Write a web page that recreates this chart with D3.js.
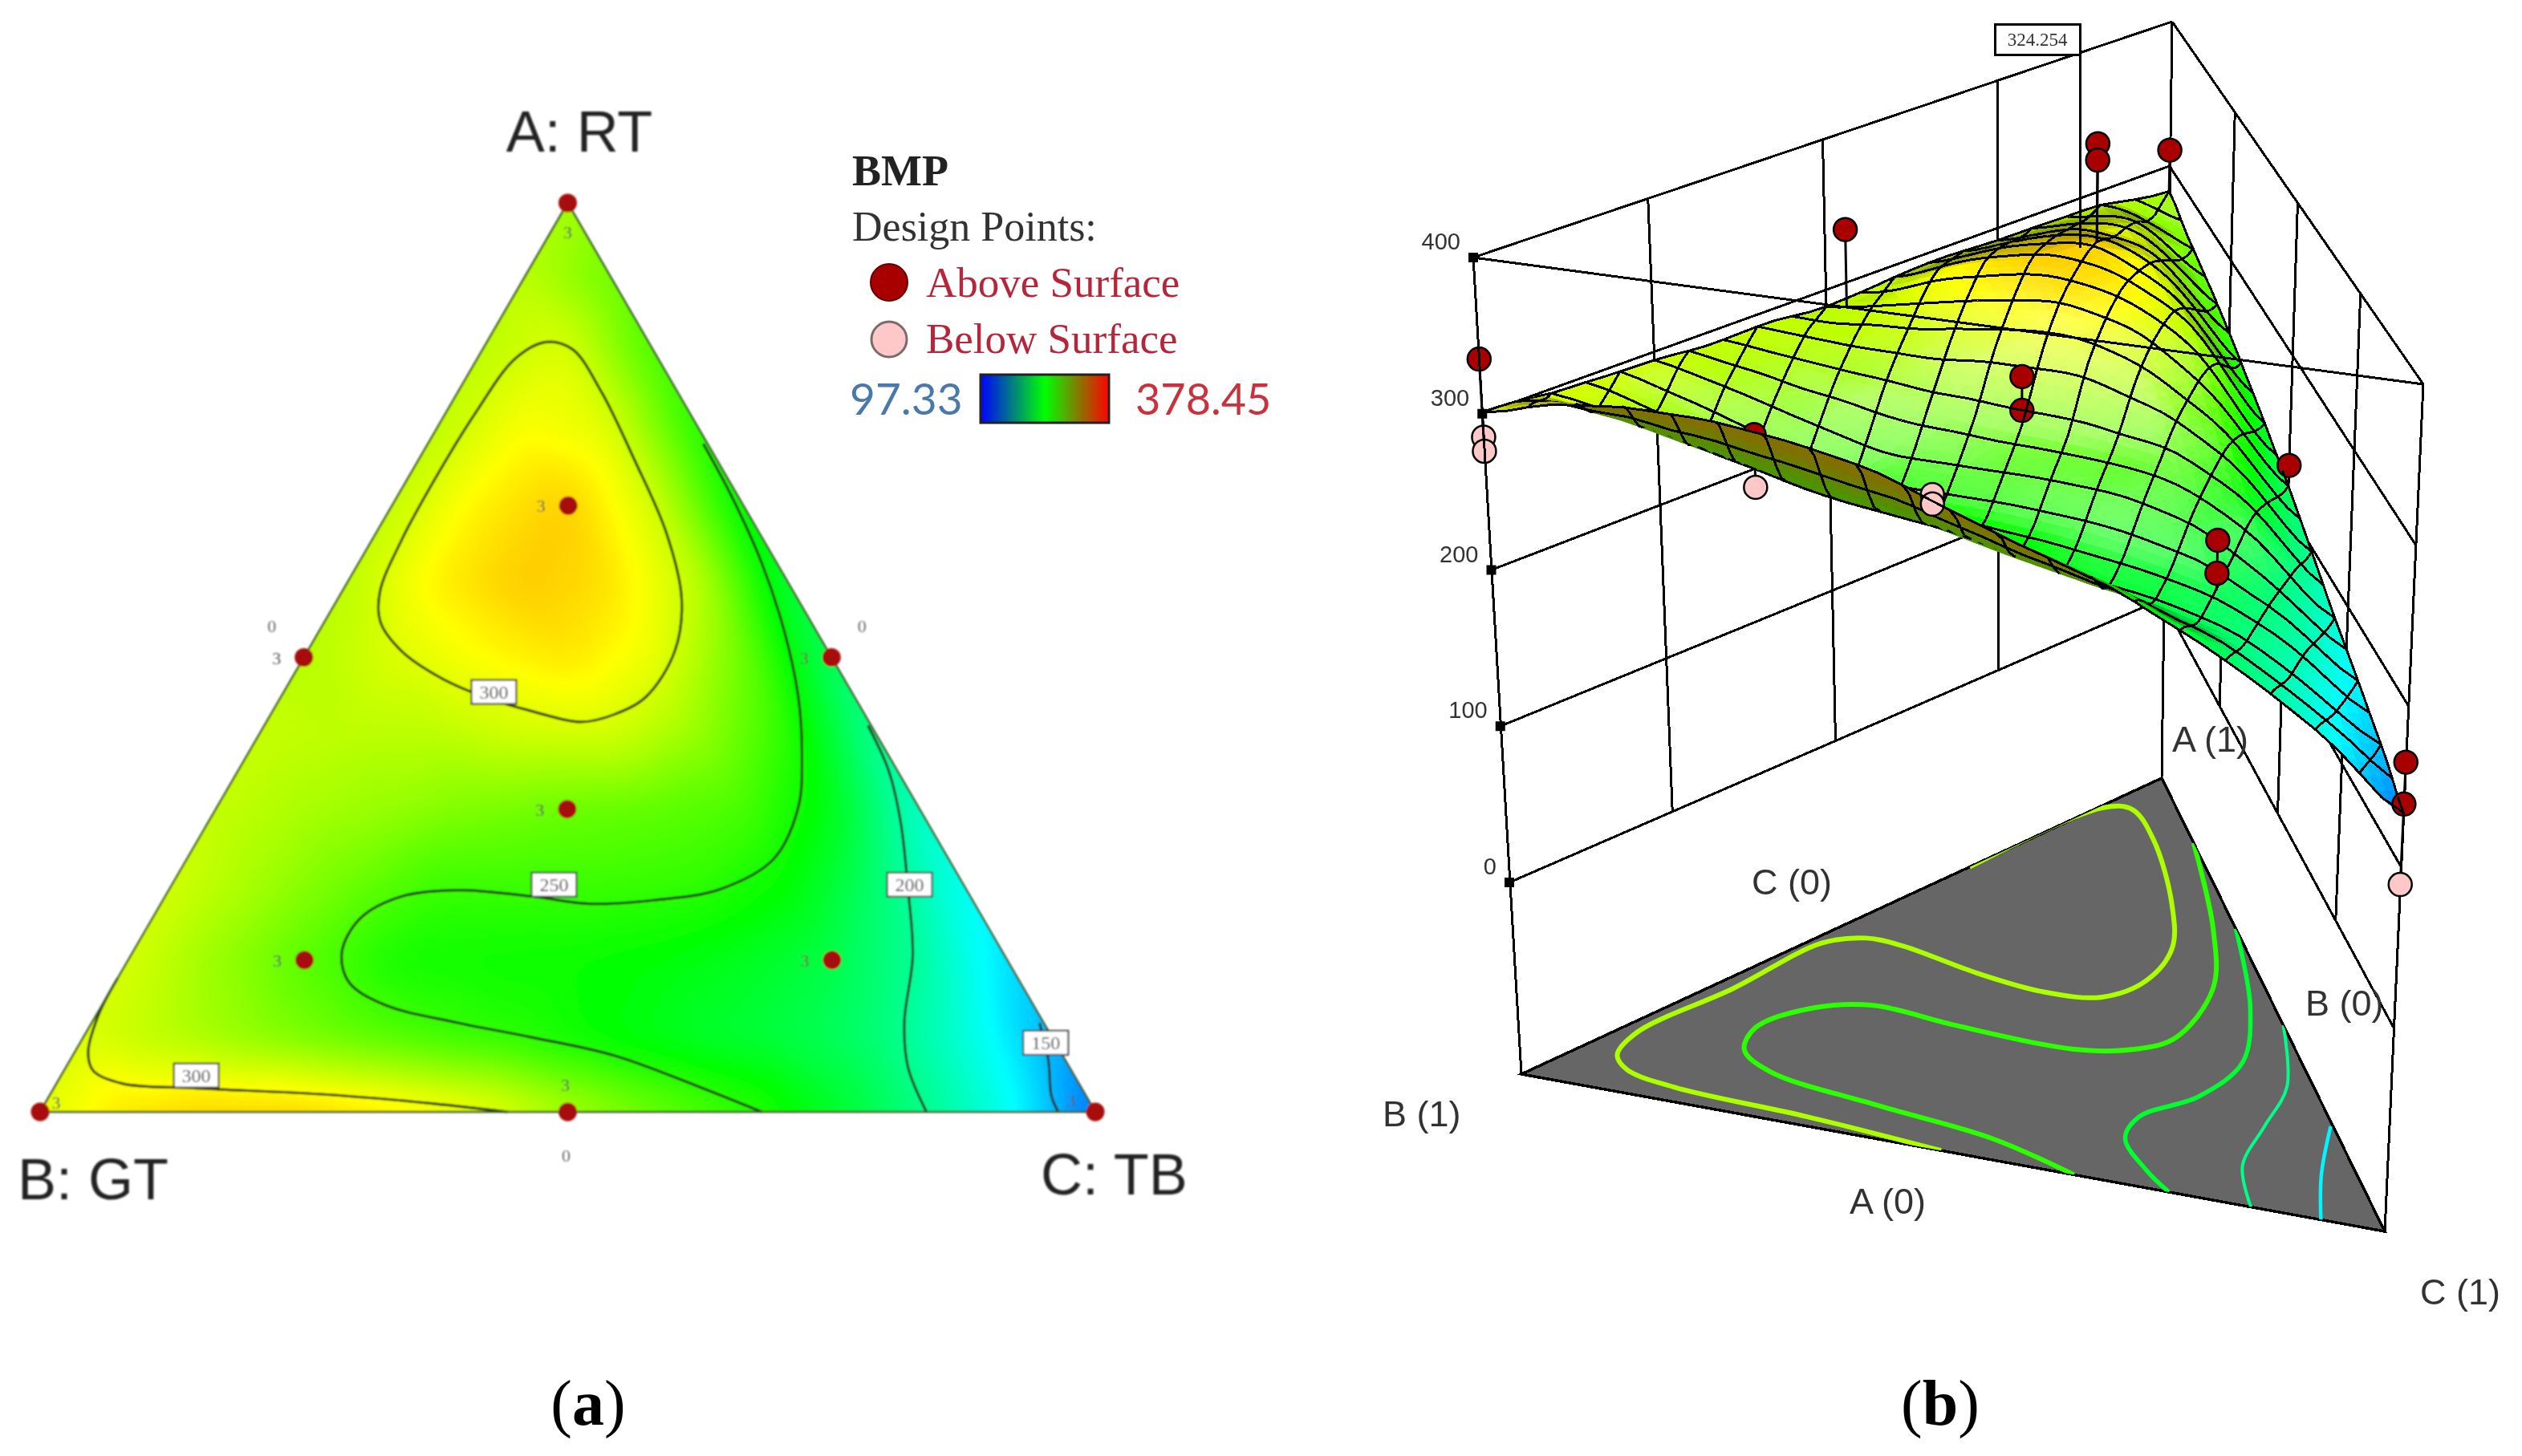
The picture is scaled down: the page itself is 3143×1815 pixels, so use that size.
<!DOCTYPE html>
<html>
<head>
<meta charset="utf-8">
<script src="https://cdn.jsdelivr.net/npm/d3@7.9.0/dist/d3.min.js"></script>
<style>
  body { margin: 0; background: #fff; }
  svg { display: block; }
</style>
</head>
<body>
<svg id="chart" width="3143" height="1815"></svg>
<script>
// BMP: row = A in twelfths, column = C in twelfths
const bmpGrid = [
  [300, 316, 322, 322, 316, 306, 286, 268, 252, 228, 202, 172, 128],
  [298, 288, 276, 265, 255, 248, 236, 226, 219, 206, 178, 146],
  [297, 280, 262, 244, 241, 240, 236, 229, 218, 195, 158],
  [296, 283, 268, 254, 254, 254, 251, 238, 208, 170],
  [292, 285, 279, 272, 267, 264, 258, 232, 182],
  [293, 290, 290, 296, 297, 280, 250, 196],
  [288, 298, 308, 315, 303, 268, 210],
  [290, 312, 323, 316, 290, 222],
  [292, 312, 322, 296, 234],
  [290, 308, 300, 247],
  [290, 300, 258],
  [290, 268],
  [283]
];
const valueMin = 97.33;
const valueMax = 378.45;
const colorStops = ['#0000ff', '#00ffff', '#00ff00', '#ffff00', '#ff0000'];
const legendStops = ['#0000ff', '#00ff00', '#ff0000'];

// contour lines of panel a, as [A, C] mixture fractions
const contour300Loop = [[.847,.056],[.839,.085],[.792,.136],[.718,.204],[.637,.275],[.564,.326],[.507,.348],[.457,.346],[.437,.325],[.429,.298],[.441,.245],[.454,.200],[.477,.142],[.507,.089],[.539,.053],[.572,.036],[.629,.028],[.694,.026],[.768,.028],[.829,.036]];
const contour300Foot = [[.147,0],[.107,.002],[.065,.013],[.045,.028],[.031,.063],[.026,.135],[.019,.263],[.009,.369],[0,.443]];
const contour250 = [[.735,.261],[.678,.316],[.605,.381],[.530,.440],[.457,.490],[.392,.526],[.335,.551],[.278,.556],[.245,.522],[.233,.466],[.229,.406],[.237,.348],[.244,.274],[.237,.224],[.213,.197],[.176,.198],[.143,.221],[.118,.267],[.098,.347],[.082,.425],[.062,.513],[.029,.607],[0,.684]];
const contour200 = [[.425,.572],[.376,.616],[.319,.656],[.245,.700],[.172,.741],[.098,.770],[.049,.798],[0,.840]];
const contour150 = [[.098,.898],[.057,.927],[.017,.950],[0,.965]];
const contourLabels = [['300',.462,.199],['250',.25,.362],['200',.25,.699],['150',.076,.915],['300',.04,.128]];

// contours on the floor of panel b, also [A, C]
const floorLevels = [285, 250, 225, 200, 165];
const floor285 = [[0,.486],[.023,.314],[.036,.150],[.058,.079],[.089,.045],[.152,.021],[.301,.022],[.45,.014],[.482,.042],[.479,.087],[.446,.197],[.43,.285],[.443,.344],[.503,.351],[.593,.314],[.699,.235],[.847,.104],[.911,.032],[.902,.004],[.70,0]];
const floor250 = [[.857,.143],[.657,.314],[.514,.42],[.378,.478],[.329,.463],[.304,.413],[.31,.272],[.322,.169],[.29,.124],[.216,.111],[.158,.141],[.116,.202],[.081,.356],[.052,.506],[0,.64]];
const floor225 = [[.668,.332],[.483,.486],[.347,.578],[.245,.603],[.169,.59],[.111,.617],[.043,.692],[0,.75]];
const floor200 = [[.455,.545],[.307,.659],[.202,.711],[.096,.764],[0,.845]];
const floor165 = [[.231,.766],[.11,.845],[0,.926]];

// design points of panel a: [A, C, run count]
const designMixes = [[1,0,3],[.667,.167,3],[.5,0,3],[.5,.5,3],[.333,.333,3],[.167,.167,3],[.167,.667,3],[0,0,3],[0,.5,3],[0,1,3]];
const zeroMixes = [[.5,0],[.5,.5],[0,.5]];

// design points of panel b: [A, C, BMP, side]
const runs3d = [
  [1, 0, 311, 'above'], [.667, .167, 385, 'above'], [.667, .167, 374, 'above'],
  [.5, .022, 342, 'above'], [.5, .5, 228, 'above'],
  [.333, .333, 299, 'above'], [.333, .333, 277, 'above'],
  [.167, .167, 274, 'above'], [.167, .167, 240, 'below'],
  [.167, .667, 249, 'above'], [.167, .667, 228, 'above'],
  [0, 0, 335, 'above'], [0, 0, 285, 'below'], [0, 0, 276, 'below'],
  [0, .482, 289, 'below'], [0, .482, 283, 'below'],
  [0, 1, 165, 'above'], [0, 1, 139, 'above'], [0, 1, 89, 'below']
];
const levelTicks = [0, 100, 200, 300, 400];
const flagValue = 324.254;
const flagMix = [.62, .184];

const svg = d3.select('#chart');
const defs = svg.append('defs');
defs.append('filter').attr('id', 'soft').append('feGaussianBlur').attr('stdDeviation', 1.1);
defs.append('filter').attr('id', 'softText').append('feGaussianBlur').attr('stdDeviation', 0.6);

const colorOf = d3.scaleLinear()
  .domain(colorStops.map((_, i) => valueMin + i * (valueMax - valueMin) / (colorStops.length - 1)))
  .range(colorStops)
  .clamp(true);

// 读取网格 -- piecewise linear on the triangular lattice
function latticeValue(a, s) {
  a = Math.max(0, Math.min(1, a));
  let c = Math.max(0, Math.min(1 - a, s - a / 2));
  const u = a * 12, q = c * 12;
  const i = Math.min(11, Math.floor(u));
  const j = Math.min(12 - i - 1, Math.floor(q));
  const fu = u - i, fq = q - j;
  const V = (r, k) => bmpGrid[r][Math.min(k, bmpGrid[r].length - 1)];
  if (fu + fq <= 1) return V(i, j) * (1 - fu - fq) + V(i + 1, j) * fu + V(i, j + 1) * fq;
  return V(i + 1, j + 1) * (fu + fq - 1) + V(i + 1, j) * (1 - fq) + V(i, j + 1) * (1 - fu);
}

// raster of the field over (s, a), smoothed with d3.blur2
const RW = 300, RH = 300;
const raster = new Float64Array(RW * RH);
for (let y = 0; y < RH; y++) {
  for (let x = 0; x < RW; x++) {
    raster[y * RW + x] = latticeValue((y + .5) / RH, (x + .5) / RW);
  }
}
d3.blur2({data: raster, width: RW, height: RH}, 4);

function fieldAt(a, s) {
  const fx = Math.max(0, Math.min(RW - 1.001, s * RW - .5));
  const fy = Math.max(0, Math.min(RH - 1.001, a * RH - .5));
  const x = Math.floor(fx), y = Math.floor(fy), dx = fx - x, dy = fy - y;
  const lo = raster[y * RW + x] * (1 - dx) + raster[y * RW + x + 1] * dx;
  const hi = raster[(y + 1) * RW + x] * (1 - dx) + raster[(y + 1) * RW + x + 1] * dx;
  return lo * (1 - dy) + hi * dy;
}
const mixValue = (a, c) => fieldAt(a, c + a / 2);

// ---------- panel a ----------
const xTern = d3.scaleLinear([0, 1], [50, 1365]);
const yTern = d3.scaleLinear([0, 1], [1386, 253]);
const ternX = (a, c) => xTern(c + a / 2);
const ternY = a => yTern(a);

const left = svg.append('g').attr('filter', 'url(#soft)');

const canvas = document.createElement('canvas');
canvas.width = RW; canvas.height = RH;
const ctx = canvas.getContext('2d');
const img = ctx.createImageData(RW, RH);
for (let y = 0; y < RH; y++) {
  for (let x = 0; x < RW; x++) {
    const col = d3.rgb(colorOf(raster[(RH - 1 - y) * RW + x]));
    const k = (y * RW + x) * 4;
    img.data[k] = col.r; img.data[k + 1] = col.g; img.data[k + 2] = col.b; img.data[k + 3] = 255;
  }
}
ctx.putImageData(img, 0, 0);

const ternCorners = [[1, 0], [0, 0], [0, 1]];
const ternPath = 'M' + ternCorners.map(d => ternX(d[0], d[1]) + ',' + ternY(d[0])).join('L') + 'Z';
defs.append('clipPath').attr('id', 'ternClip').append('path').attr('d', ternPath);

left.append('image')
  .attr('href', canvas.toDataURL())
  .attr('x', xTern(0)).attr('y', yTern(1))
  .attr('width', xTern(1) - xTern(0)).attr('height', yTern(0) - yTern(1))
  .attr('preserveAspectRatio', 'none')
  .attr('clip-path', 'url(#ternClip)');

const ternLine = d3.line().x(d => ternX(d[0], d[1])).y(d => ternY(d[0]));
const contourLayer = left.append('g').attr('fill', 'none').attr('stroke', '#26331c').attr('stroke-width', 3.2);
contourLayer.append('path').datum(contour300Loop).attr('d', ternLine.curve(d3.curveCatmullRomClosed));
[contour300Foot, contour250, contour200, contour150].forEach(line => {
  contourLayer.append('path').datum(line).attr('d', ternLine.curve(d3.curveCatmullRom));
});

left.append('path').attr('d', ternPath).attr('fill', 'none').attr('stroke', '#3d5a28').attr('stroke-width', 2.5);

contourLabels.forEach(d => {
  const x = ternX(d[1], d[2]), y = ternY(d[1]);
  left.append('rect').attr('x', x - 28).attr('y', y - 15).attr('width', 56).attr('height', 30)
    .attr('fill', '#fff').attr('stroke', '#333').attr('stroke-width', 2);
  left.append('text').attr('x', x).attr('y', y + 8).attr('text-anchor', 'middle')
    .attr('font-family', 'Liberation Serif').attr('font-size', 24).attr('fill', '#444').text(d[0]);
});

// offset of the run count next to each design point
const countOffset = (a, c) => {
  if (a === 1) return [0, 44];
  if (a === 0 && c === 0) return [20, -4];
  if (a === 0 && c === 1) return [-30, -6];
  if (a === 0) return [-3, -26];
  return [-34, 8];
};
designMixes.forEach(d => {
  const x = ternX(d[0], d[1]), y = ternY(d[0]), o = countOffset(d[0], d[1]);
  left.append('circle').attr('cx', x).attr('cy', y).attr('r', 11.5).attr('fill', '#a80a0a');
  left.append('text').attr('x', x + o[0]).attr('y', y + o[1]).attr('text-anchor', 'middle')
    .attr('font-family', 'Liberation Serif').attr('font-size', 22).attr('fill', '#555').text(d[2]);
});
zeroMixes.forEach(d => {
  const x = ternX(d[0], d[1]), y = ternY(d[0]);
  left.append('text').attr('x', d[0] === 0 ? x - 2 : (d[1] === 0 ? x - 40 : x + 38))
    .attr('y', d[0] === 0 ? y + 62 : y - 32).attr('text-anchor', 'middle')
    .attr('font-family', 'Liberation Serif').attr('font-size', 22).attr('fill', '#666').text('0');
});

[['A: RT', 722, 189, 'middle'], ['B: GT', 22, 1495, 'start'], ['C: TB', 1297, 1489, 'start']].forEach(d => {
  left.append('text').attr('x', d[1]).attr('y', d[2]).attr('text-anchor', d[3])
    .attr('font-family', 'Liberation Sans').attr('font-size', 72).attr('fill', '#222').text(d[0]);
});

// legend
const legend = svg.append('g').attr('filter', 'url(#softText)');
const serif = 'Liberation Serif';
legend.append('text').attr('x', 1062).attr('y', 231).attr('font-family', serif).attr('font-weight', 'bold')
  .attr('font-size', 54).attr('fill', '#222').text('BMP');
legend.append('text').attr('x', 1062).attr('y', 300).attr('font-family', serif)
  .attr('font-size', 52).attr('fill', '#333').text('Design Points:');
legend.append('circle').attr('cx', 1108).attr('cy', 352).attr('r', 23).attr('fill', '#a80000').attr('stroke', '#600').attr('stroke-width', 2);
legend.append('text').attr('x', 1154).attr('y', 370).attr('font-family', serif)
  .attr('font-size', 53).attr('fill', '#b5263a').text('Above Surface');
legend.append('circle').attr('cx', 1108).attr('cy', 423).attr('r', 22).attr('fill', '#ffc8c8').attr('stroke', '#7a6a6a').attr('stroke-width', 3);
legend.append('text').attr('x', 1154).attr('y', 440).attr('font-family', serif)
  .attr('font-size', 53).attr('fill', '#b5263a').text('Below Surface');

const grad = defs.append('linearGradient').attr('id', 'legendRamp');
legendStops.forEach((c, i) => grad.append('stop').attr('offset', i / (legendStops.length - 1)).attr('stop-color', c));
legend.append('rect').attr('x', 1222).attr('y', 467).attr('width', 160).attr('height', 60)
  .attr('fill', 'url(#legendRamp)').attr('stroke', '#222').attr('stroke-width', 3);
legend.append('text').attr('x', 1059).attr('y', 517).attr('font-family', 'Lato')
  .attr('font-size', 55).attr('fill', '#4a78ab').text(valueMin);
legend.append('text').attr('x', 1415).attr('y', 517).attr('font-family', 'Lato')
  .attr('font-size', 54).attr('fill', '#c8303c').text(valueMax);

// ---------- panel b ----------
// each corner of the box has its own vertical on screen, BMP maps along it
const cornerX = {
  A: d3.scaleLinear([0, 400], [2694, 2707]),
  B: d3.scaleLinear([0, 400], [1881, 1836]),
  C: d3.scaleLinear([0, 400], [2983, 3020])
};
const cornerY = {
  A: d3.scaleLinear([0, 400], [747, 27]),
  B: d3.scaleLinear([0, 400], [1100, 321]),
  C: d3.scaleLinear([0, 400], [1281, 479])
};
const floorCorner = {A: [2694, 970], B: [1896, 1339], C: [2972, 1535]};

function project(a, c, level) {
  const b = 1 - a - c;
  return [
    a * cornerX.A(level) + b * cornerX.B(level) + c * cornerX.C(level),
    a * cornerY.A(level) + b * cornerY.B(level) + c * cornerY.C(level)
  ];
}
function floorPoint(a, c) {
  const b = 1 - a - c;
  return [
    a * floorCorner.A[0] + b * floorCorner.B[0] + c * floorCorner.C[0],
    a * floorCorner.A[1] + b * floorCorner.B[1] + c * floorCorner.C[1]
  ];
}
const right = svg.append('g');
const crisp = 'crispEdges';

// floor with contours
const floorPath = 'M' + [floorCorner.A, floorCorner.B, floorCorner.C].map(d => d.join(',')).join('L') + 'Z';
defs.append('clipPath').attr('id', 'floorClip').append('path').attr('d', floorPath);
right.append('path').attr('d', floorPath).attr('fill', '#666666').attr('stroke', '#000').attr('stroke-width', 3.5).attr('shape-rendering', crisp);
const floorLine = d3.line().x(d => floorPoint(d[0], d[1])[0]).y(d => floorPoint(d[0], d[1])[1]).curve(d3.curveCatmullRom);
const floorWidths = [6, 6, 5.5, 4, 4.5];
const floorColors = floorLevels.map(l => colorOf(l));
right.append('g').attr('clip-path', 'url(#floorClip)').selectAll('path')
  .data([floor285, floor250, floor225, floor200, floor165]).join('path')
  .attr('d', floorLine)
  .attr('fill', 'none')
  .attr('stroke', (d, i) => floorColors[i])
  .attr('stroke-width', (d, i) => floorWidths[i]);

// walls
const wallLine = (p, q) => right.append('line')
  .attr('x1', p[0]).attr('y1', p[1]).attr('x2', q[0]).attr('y2', q[1])
  .attr('stroke', '#000').attr('stroke-width', 3).attr('shape-rendering', crisp);
levelTicks.forEach(l => {
  wallLine(project(0, 0, l), project(1, 0, l));
  wallLine(project(1, 0, l), project(0, 1, l));
});
[.25, .5, .75].forEach(f => {
  wallLine(project(f, 0, 400), project(f, 0, 0));
  wallLine(project(1 - f, f, 400), project(1 - f, f, 0));
});
wallLine(project(1, 0, 400), floorCorner.A);
wallLine(project(0, 1, 400), floorCorner.C);

// surface, far rows first so the front lip covers what is behind it
const N = 60;
const surfaceItems = [];
const nodeAt = (i, j) => {
  const a = i / N, c = j / N;
  const v = mixValue(a, c);
  return {a, c, v, p: project(a, c, v), f: floorPoint(a, c)};
};
const nodes = d3.range(N + 1).map(i => d3.range(N + 1 - i).map(j => nodeAt(i, j)));
const area2 = (p, q, r) => (q[0] - p[0]) * (r[1] - p[1]) - (q[1] - p[1]) * (r[0] - p[0]);

function shade(v, r, a) {
  if (r < 0) return d3.interpolateRgb('#807000', '#4c9400')(Math.max(0, Math.min(1, (a - .03) / .04)));
  const base = colorOf(v);
  if (r < .8) return d3.interpolateRgb('#000', base)(.45 + .55 * r / .8);
  if (r <= 1.1) return base;
  // the highlight sits on the middle of the sheet, the low C wedge stays saturated
  const glow = Math.max(0, Math.min(1, (v - 190) / 40));
  return d3.interpolateRgb(base, '#fff')(Math.min(.42, (r - 1.1) * .55) * glow);
}
function addTriangle(n1, n2, n3) {
  const flat = area2(n1.f, n2.f, n3.f);
  const r = area2(n1.p, n2.p, n3.p) / flat;
  const fill = shade((n1.v + n2.v + n3.v) / 3, r, (n1.a + n2.a + n3.a) / 3);
  surfaceItems.push({
    key: (n1.a + n2.a + n3.a) / 3, kind: 'tri', fill,
    d: 'M' + n1.p + 'L' + n2.p + 'L' + n3.p + 'Z'
  });
}
for (let i = 0; i < N; i++) {
  for (let j = 0; j < N - i; j++) {
    addTriangle(nodes[i][j], nodes[i][j + 1], nodes[i + 1][j]);
    if (j < N - i - 1) addTriangle(nodes[i][j + 1], nodes[i + 1][j + 1], nodes[i + 1][j]);
  }
}

// mesh: rows and columns of the flat map, cut to the triangle
function addMeshRun(points) {
  for (let i = 1; i < points.length; i++) {
    const p = points[i - 1], q = points[i];
    surfaceItems.push({
      key: (p[0] + q[0]) / 2 - 1.5 / N, kind: 'mesh',
      d: 'M' + project(p[0], p[1], mixValue(p[0], p[1])) + 'L' + project(q[0], q[1], mixValue(q[0], q[1]))
    });
  }
}
d3.range(0, 20).forEach(k => {
  const a = k / 20;
  addMeshRun(d3.range(0, 41).map(t => [a, (1 - a) * t / 40]));
});
d3.range(1, 20).forEach(k => {
  const s = k / 20, top = 2 * Math.min(s, 1 - s);
  addMeshRun(d3.range(0, 31).map(t => {
    const a = top * t / 30;
    return [a, s - a / 2];
  }));
});
addMeshRun(d3.range(0, 41).map(t => [t / 40, 0]));
addMeshRun(d3.range(0, 41).map(t => [t / 40, 1 - t / 40]));

runs3d.forEach(d => surfaceItems.push({key: d[0] === 1 ? .999 : d[0] - .002, kind: 'run', run: d}));
surfaceItems.sort((p, q) => q.key - p.key);

const surfaceLayer = right.append('g');
surfaceItems.forEach(it => {
  if (it.kind === 'tri') {
    surfaceLayer.append('path').attr('d', it.d).attr('fill', it.fill).attr('stroke', it.fill).attr('stroke-width', 1);
  } else if (it.kind === 'mesh') {
    surfaceLayer.append('path').attr('d', it.d).attr('stroke', '#000').attr('stroke-width', 3)
      .attr('fill', 'none').attr('shape-rendering', crisp);
  } else {
    const [a, c, level, side] = it.run;
    const p = project(a, c, level), s = project(a, c, mixValue(a, c));
    surfaceLayer.append('line').attr('x1', p[0]).attr('y1', p[1]).attr('x2', s[0]).attr('y2', s[1])
      .attr('stroke', '#000').attr('stroke-width', 3);
    surfaceLayer.append('circle').attr('cx', p[0]).attr('cy', p[1]).attr('r', 14.5)
      .attr('fill', side === 'above' ? '#a80000' : '#ffc8c8')
      .attr('stroke', '#000').attr('stroke-width', 2.5);
  }
});

// front edge at the top of the box and the B corner axis run over the surface
wallLine(project(0, 0, 400), project(0, 1, 400));
wallLine(project(0, 0, 400), floorCorner.B);
levelTicks.forEach(l => {
  const p = project(0, 0, l);
  right.append('rect').attr('x', p[0] - 6).attr('y', p[1] - 6).attr('width', 12).attr('height', 12).attr('fill', '#000');
});

// prediction flag
const flagPoint = project(flagMix[0], flagMix[1], flagValue);
wallLine([flagPoint[0], 66], flagPoint);
right.append('rect').attr('x', 2486).attr('y', 30).attr('width', 106).attr('height', 38)
  .attr('fill', '#fff').attr('stroke', '#000').attr('stroke-width', 3).attr('shape-rendering', crisp);

const labels3d = right.append('g').attr('filter', 'url(#softText)');
labels3d.append('text').attr('x', 2539).attr('y', 57).attr('text-anchor', 'middle')
  .attr('font-family', 'Liberation Serif').attr('font-size', 23).attr('fill', '#333').text(flagValue);
levelTicks.forEach(l => {
  const p = project(0, 0, l);
  labels3d.append('text').attr('x', p[0] - 16).attr('y', p[1] - 10).attr('text-anchor', 'end')
    .attr('font-family', 'Liberation Sans').attr('font-size', 29).attr('fill', '#333').text(l);
});
[['A (1)', 2707, 937], ['C (0)', 2183, 1115], ['B (0)', 2873, 1266], ['B (1)', 1723, 1404], ['A (0)', 2305, 1513], ['C (1)', 3016, 1626]].forEach(d => {
  labels3d.append('text').attr('x', d[1]).attr('y', d[2])
    .attr('font-family', 'Liberation Sans').attr('font-size', 45).attr('fill', '#333').text(d[0]);
});

// captions
[['a', 733], ['b', 2418]].forEach(d => {
  const t = svg.append('text').attr('x', d[1]).attr('y', 1776).attr('text-anchor', 'middle')
    .attr('font-family', serif).attr('font-size', 80).attr('fill', '#000');
  t.append('tspan').text('(');
  t.append('tspan').attr('font-weight', 'bold').text(d[0]);
  t.append('tspan').text(')');
});
</script>
</body>
</html>
